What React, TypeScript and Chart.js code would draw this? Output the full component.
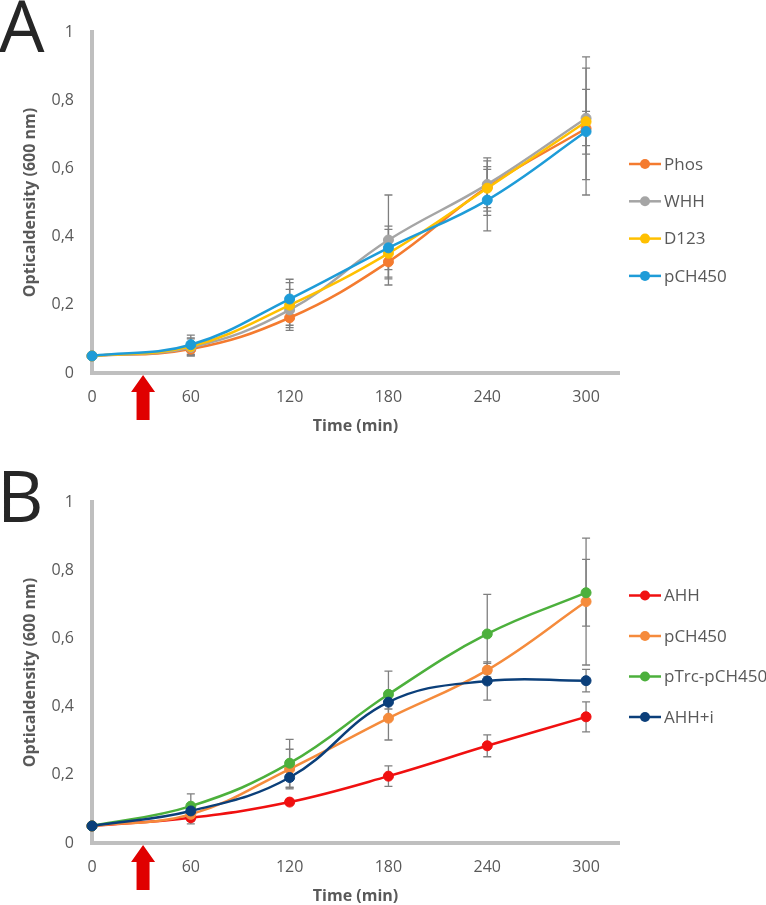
import React, { useEffect, useRef } from "react";
import { Chart, registerables } from "chart.js";

Chart.register(...registerables);

// ---- data ----
const times = [0, 60, 120, 180, 240, 300];
const xTickValues = [0, 60, 120, 180, 240, 300];
const xTickLabels = ["0", "60", "120", "180", "240", "300"];
const yTickValues = [0, 0.2, 0.4, 0.6, 0.8, 1];
const yTickLabels = ["0", "0,2", "0,4", "0,6", "0,8", "1"];
const arrowTime = 31;

// Panel A
const phosA = [0.05, 0.07, 0.162, 0.326, 0.545, 0.717];
const phosAErr = [0, 0.02, 0.022, 0.05, 0.06, 0.05];
const whhA = [0.05, 0.075, 0.185, 0.39, 0.553, 0.747];
const whhAErr = [0, 0.025, 0.06, 0.132, 0.078, 0.18];
const d123A = [0.05, 0.078, 0.199, 0.351, 0.542, 0.737];
const d123AErr = [0, 0.025, 0.066, 0.07, 0.08, 0.095];
const pch450A = [0.05, 0.083, 0.217, 0.367, 0.507, 0.708];
const pch450AErr = [0, 0.028, 0.058, 0.064, 0.09, 0.186];

// Panel B
const ahhB = [0.05, 0.074, 0.12, 0.196, 0.285, 0.37];
const ahhBErr = [0, 0.018, 0.008, 0.03, 0.032, 0.044];
const pch450B = [0.05, 0.084, 0.217, 0.366, 0.507, 0.708];
const pch450BErr = [0, 0.02, 0.058, 0.064, 0.02, 0.186];
const pTrcB = [0.05, 0.108, 0.234, 0.436, 0.613, 0.734];
const pTrcBErr = [0, 0.036, 0.07, 0.068, 0.116, 0.098];
const ahhiB = [0.05, 0.094, 0.192, 0.413, 0.475, 0.476];
const ahhiBErr = [0, 0.01, 0.03, 0.02, 0.056, 0.033];

type Series = { label: string; color: string; values: number[]; errors: number[] };

const seriesA: Series[] = [
  { label: "Phos", color: "#F47B2F", values: phosA, errors: phosAErr },
  { label: "WHH", color: "#A5A5A5", values: whhA, errors: whhAErr },
  { label: "D123", color: "#FFC000", values: d123A, errors: d123AErr },
  { label: "pCH450", color: "#1E9CD8", values: pch450A, errors: pch450AErr },
];

const seriesB: Series[] = [
  { label: "AHH", color: "#F01010", values: ahhB, errors: ahhBErr },
  { label: "pCH450", color: "#F58B3C", values: pch450B, errors: pch450BErr },
  { label: "pTrc-pCH450", color: "#4CB03C", values: pTrcB, errors: pTrcBErr },
  { label: "AHH+i", color: "#0B3F7A", values: ahhiB, errors: ahhiBErr },
];

const FAMILY = "'Open Sans', 'DejaVu Sans', sans-serif";
const TEXT = "#595959";
const AXIS = "#BFBFBF";

type PanelProps = {
  letter: string;
  series: Series[];
  height: number;
  legendTop: number;
  legendGap: number;
};

function Panel({ letter, series, height, legendTop, legendGap }: PanelProps) {
  const ref = useRef<HTMLCanvasElement | null>(null);

  useEffect(() => {
    const canvas = ref.current;
    if (!canvas) return;

    const decor = {
      id: "decor",
      beforeDatasetsDraw(chart: any) {
        const ctx = chart.ctx;
        const xs = chart.scales.x;
        const ys = chart.scales.y;
        ctx.save();
        ctx.strokeStyle = "#7F7F7F";
        ctx.lineWidth = 1.3;
        series.forEach((s) => {
          times.forEach((t, j) => {
            const e = s.errors[j];
            if (!e) return;
            const px = xs.getPixelForValue(t);
            const top = ys.getPixelForValue(s.values[j] + e);
            const bot = ys.getPixelForValue(s.values[j] - e);
            ctx.beginPath();
            ctx.moveTo(px, top);
            ctx.lineTo(px, bot);
            ctx.moveTo(px - 4, top);
            ctx.lineTo(px + 4, top);
            ctx.moveTo(px - 4, bot);
            ctx.lineTo(px + 4, bot);
            ctx.stroke();
          });
        });
        ctx.restore();
      },
      afterDraw(chart: any) {
        const ctx = chart.ctx;
        const xs = chart.scales.x;
        const area = chart.chartArea;
        ctx.save();
        // panel letter
        ctx.fillStyle = "#262626";
        ctx.font = `72px ${FAMILY}`;
        ctx.textAlign = "left";
        ctx.textBaseline = "alphabetic";
        ctx.fillText(letter, letter === "A" ? -1 : -3, 52);

        // red arrow
        const ax = xs.getPixelForValue(arrowTime);
        const tipY = area.bottom + 2;
        ctx.fillStyle = "#E00000";
        ctx.beginPath();
        ctx.moveTo(ax, tipY);
        ctx.lineTo(ax + 12, tipY + 17);
        ctx.lineTo(ax + 6.5, tipY + 17);
        ctx.lineTo(ax + 6.5, tipY + 45);
        ctx.lineTo(ax - 6.5, tipY + 45);
        ctx.lineTo(ax - 6.5, tipY + 17);
        ctx.lineTo(ax - 12, tipY + 17);
        ctx.closePath();
        ctx.fill();

        // legend
        ctx.font = `17px ${FAMILY}`;
        ctx.textBaseline = "middle";
        series.forEach((s, i) => {
          const y = legendTop + i * legendGap;
          const lx = area.right + 10;
          ctx.strokeStyle = s.color;
          ctx.lineWidth = 2.5;
          ctx.beginPath();
          ctx.moveTo(lx, y);
          ctx.lineTo(lx + 32, y);
          ctx.stroke();
          ctx.fillStyle = s.color;
          ctx.beginPath();
          ctx.arc(lx + 16, y, 5, 0, Math.PI * 2);
          ctx.fill();
          ctx.fillStyle = TEXT;
          ctx.fillText(s.label, lx + 35, y + 1);
        });
        ctx.restore();
      },
    };

    const n = series.length;
    const chart = new Chart(canvas, {
      type: "line",
      data: {
        datasets: series.map((s, i) => ({
          label: s.label,
          data: times.map((t, j) => ({ x: t, y: s.values[j] })),
          borderColor: s.color,
          backgroundColor: s.color,
          pointBackgroundColor: s.color,
          pointBorderColor: s.color,
          pointRadius: 5,
          pointBorderWidth: 1,
          borderWidth: 2.5,
          tension: 0.4,
          clip: false as any,
          order: n - 1 - i,
        })),
      },
      options: {
        responsive: false,
        animation: false,
        events: [],
        layout: { padding: { left: 0, top: 32, right: 147, bottom: 0 } },
        plugins: { legend: { display: false }, tooltip: { enabled: false } },
        scales: {
          x: {
            type: "linear",
            min: 0,
            max: 320,
            afterBuildTicks: (s: any) => {
              s.ticks = xTickValues.map((v) => ({ value: v }));
            },
            afterFit: (s: any) => {
              s.height = height - 373;
            },
            grid: { display: false, drawTicks: false },
            border: { display: true, color: AXIS, width: 4 },
            ticks: {
              padding: 15,
              color: TEXT,
              font: { family: FAMILY, size: 16 },
              maxRotation: 0,
              autoSkip: false,
              callback: (_v: any, i: number) => xTickLabels[i],
            },
            title: {
              display: true,
              text: "Time (min)",
              color: TEXT,
              font: { family: FAMILY, size: 16, weight: "bold" },
              padding: { top: 0, bottom: height - 426 - 9.6 },
            },
          },
          y: {
            type: "linear",
            min: 0,
            max: 1,
            afterBuildTicks: (s: any) => {
              s.ticks = yTickValues.map((v) => ({ value: v }));
            },
            afterFit: (s: any) => {
              s.width = 92;
            },
            grid: { display: false, drawTicks: false },
            border: { display: true, color: AXIS, width: 4 },
            ticks: {
              padding: 18,
              color: TEXT,
              font: { family: FAMILY, size: 16 },
              autoSkip: false,
              callback: (_v: any, i: number) => yTickLabels[i],
            },
            title: {
              display: true,
              text: "Opticaldensity (600 nm)",
              color: TEXT,
              font: { family: FAMILY, size: 16, weight: "bold" },
              padding: { top: 20.4, bottom: 0 },
            },
          },
        },
      } as any,
      plugins: [decor],
    });
    return () => chart.destroy();
  }, [letter, series, height, legendTop, legendGap]);

  return (
    <canvas
      ref={ref}
      width={766}
      height={height}
      style={{ display: "block", width: 766, height }}
    />
  );
}

export default function App() {
  return (
    <div
      style={{
        position: "absolute",
        left: 0,
        top: 0,
        width: 766,
        height: 905,
        background: "#ffffff",
        overflow: "hidden",
      }}
    >
      <Panel letter="A" series={seriesA} height={470} legendTop={164} legendGap={37.3} />
      <Panel letter="B" series={seriesB} height={435} legendTop={125.5} legendGap={40.5} />
    </div>
  );
}
